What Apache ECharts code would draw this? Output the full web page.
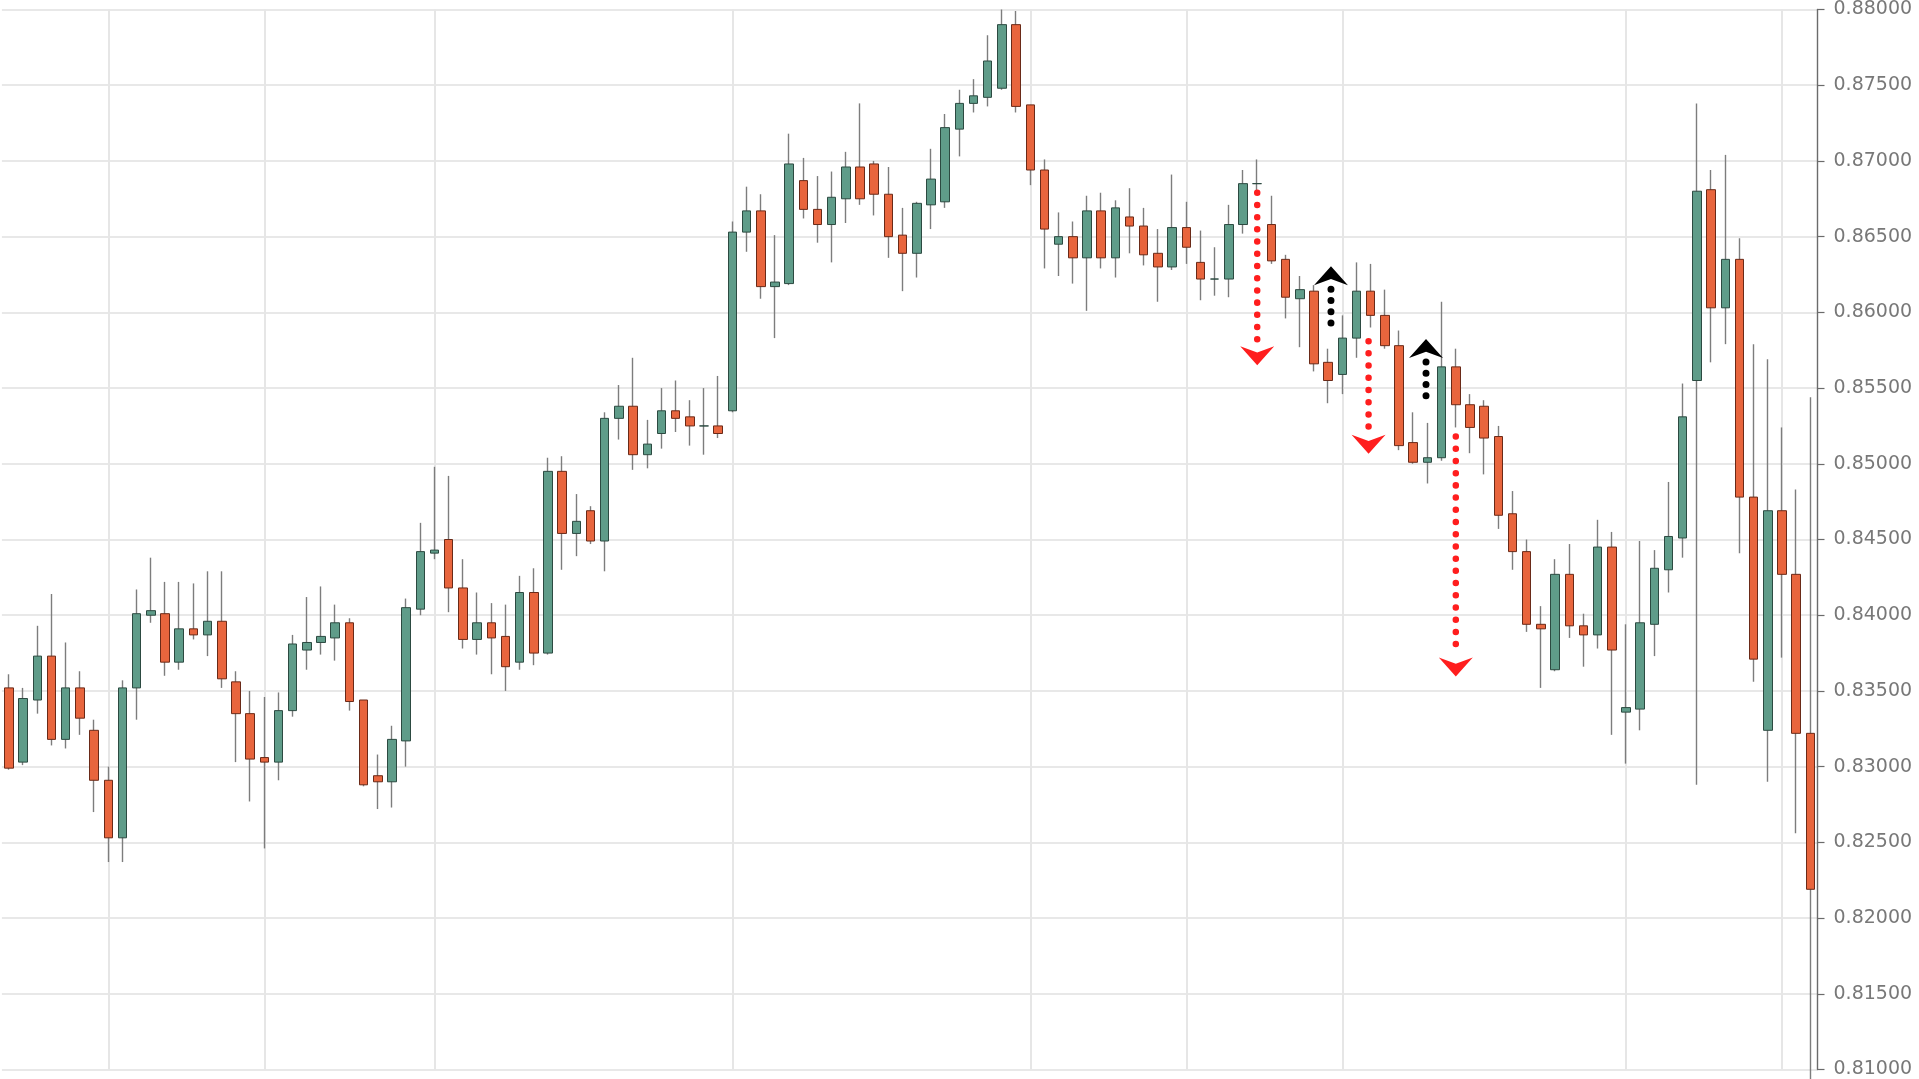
<!DOCTYPE html>
<html>
<head>
<meta charset="utf-8">
<script src="https://cdn.jsdelivr.net/npm/echarts@6/dist/echarts.min.js"></script>
<style>
html,body{margin:0;padding:0;background:#fff;}
#chart{width:1919px;height:1079px;}
</style>
</head>
<body>
<div id="chart"></div>
<script>
// OHLC values (one entry per candle)
const open = [
0.8352,0.8303,0.8344,0.8373,0.8318,0.8352,0.8324,0.8291,0.8253,0.8352,
0.8400,0.8401,0.8369,0.8391,0.8387,0.8396,0.8356,0.8335,0.8306,0.8303,
0.8337,0.8377,0.8382,0.8385,0.8395,0.8344,0.8294,0.8290,0.8317,0.8404,
0.8441,0.8450,0.8418,0.8384,0.8395,0.8386,0.8369,0.8415,0.8375,0.8495,
0.8454,0.8469,0.8449,0.8530,0.8538,0.8506,0.8520,0.8535,0.8531,0.8525,
0.8525,0.8535,0.8653,0.8667,0.8617,0.8619,0.8687,0.8668,0.8658,0.8675,
0.8696,0.8698,0.8678,0.8651,0.8639,0.8671,0.8673,0.8721,0.8738,0.8742,
0.8748,0.8790,0.8737,0.8694,0.8645,0.8650,0.8636,0.8667,0.8636,0.8663,
0.8657,0.8639,0.8630,0.8656,0.8633,0.8622,0.8622,0.8658,0.8685,0.8658,
0.8635,0.8609,0.8614,0.8567,0.8559,0.8583,0.8614,0.8598,0.8578,0.8514,
0.8501,0.8504,0.8564,0.8539,0.8538,0.8518,0.8467,0.8442,0.8394,0.8364,
0.8427,0.8393,0.8387,0.8445,0.8336,0.8338,0.8394,0.8430,0.8451,0.8555,
0.8681,0.8603,0.8635,0.8478,0.8324,0.8469,0.8427,0.8322
];
const close = [
0.8299,0.8345,0.8373,0.8318,0.8352,0.8332,0.8291,0.8253,0.8352,0.8401,
0.8403,0.8369,0.8391,0.8387,0.8396,0.8358,0.8335,0.8305,0.8303,0.8337,
0.8381,0.8382,0.8386,0.8395,0.8343,0.8288,0.8290,0.8318,0.8405,0.8442,
0.8443,0.8418,0.8384,0.8395,0.8385,0.8366,0.8415,0.8375,0.8495,0.8454,
0.8462,0.8449,0.8530,0.8538,0.8506,0.8513,0.8535,0.8530,0.8525,0.8525,
0.8520,0.8653,0.8667,0.8617,0.8620,0.8698,0.8668,0.8658,0.8676,0.8696,
0.8675,0.8678,0.8650,0.8639,0.8672,0.8688,0.8722,0.8738,0.8743,0.8766,
0.8790,0.8736,0.8694,0.8655,0.8650,0.8636,0.8667,0.8636,0.8669,0.8657,
0.8638,0.8630,0.8656,0.8643,0.8622,0.8622,0.8658,0.8685,0.8685,0.8634,
0.8610,0.8615,0.8566,0.8555,0.8583,0.8614,0.8598,0.8578,0.8512,0.8501,
0.8504,0.8564,0.8539,0.8524,0.8517,0.8466,0.8442,0.8394,0.8391,0.8427,
0.8393,0.8387,0.8445,0.8377,0.8339,0.8395,0.8431,0.8452,0.8531,0.8680,
0.8603,0.8635,0.8478,0.8371,0.8469,0.8427,0.8322,0.8219
];
const low = [
0.8298,0.8301,0.8335,0.8314,0.8312,0.8321,0.8270,0.8237,0.8237,0.8331,
0.8395,0.8360,0.8364,0.8384,0.8373,0.8352,0.8303,0.8277,0.8246,0.8291,
0.8333,0.8364,0.8374,0.8370,0.8337,0.8287,0.8272,0.8273,0.8300,0.8400,
0.8437,0.8402,0.8378,0.8374,0.8361,0.8350,0.8364,0.8367,0.8374,0.8430,
0.8439,0.8447,0.8429,0.8516,0.8496,0.8497,0.8510,0.8521,0.8512,0.8506,
0.8517,0.8534,0.8640,0.8609,0.8583,0.8618,0.8662,0.8646,0.8633,0.8659,
0.8671,0.8664,0.8636,0.8614,0.8623,0.8655,0.8669,0.8703,0.8732,0.8736,
0.8747,0.8732,0.8684,0.8629,0.8624,0.8619,0.8601,0.8629,0.8623,0.8639,
0.8631,0.8607,0.8628,0.8632,0.8608,0.8611,0.8610,0.8652,0.8678,0.8632,
0.8596,0.8577,0.8561,0.8540,0.8546,0.8570,0.8590,0.8576,0.8509,0.8500,
0.8487,0.8502,0.8524,0.8507,0.8493,0.8457,0.8430,0.8389,0.8352,0.8363,
0.8385,0.8366,0.8378,0.8321,0.8302,0.8324,0.8373,0.8415,0.8438,0.8288,
0.8567,0.8579,0.8441,0.8356,0.8290,0.8372,0.8256,0.8050
];
const high = [
0.8361,0.8352,0.8393,0.8414,0.8382,0.8363,0.8331,0.8300,0.8357,0.8417,
0.8438,0.8422,0.8422,0.8421,0.8429,0.8429,0.8363,0.8350,0.8346,0.8349,
0.8387,0.8412,0.8419,0.8407,0.8398,0.8344,0.8308,0.8327,0.8411,0.8461,
0.8498,0.8492,0.8437,0.8415,0.8408,0.8407,0.8426,0.8431,0.8504,0.8505,
0.8480,0.8472,0.8534,0.8552,0.8570,0.8529,0.8550,0.8555,0.8542,0.8550,
0.8558,0.8660,0.8683,0.8678,0.8651,0.8718,0.8702,0.8690,0.8693,0.8706,
0.8738,0.8700,0.8696,0.8669,0.8673,0.8708,0.8731,0.8747,0.8754,0.8783,
0.8800,0.8799,0.8737,0.8701,0.8666,0.8660,0.8677,0.8679,0.8674,0.8682,
0.8669,0.8655,0.8691,0.8673,0.8654,0.8643,0.8671,0.8694,0.8701,0.8677,
0.8638,0.8624,0.8618,0.8576,0.8598,0.8633,0.8632,0.8615,0.8588,0.8534,
0.8527,0.8607,0.8576,0.8546,0.8542,0.8525,0.8482,0.8450,0.8406,0.8437,
0.8447,0.8401,0.8463,0.8455,0.8394,0.8449,0.8443,0.8488,0.8553,0.8738,
0.8694,0.8704,0.8649,0.8579,0.8569,0.8524,0.8483,0.8544
];
const categories = open.map((_, i) => 'D' + (i + 1));

// vertical separator lines (candle indices)
const separatorIdx = [7, 18, 30, 51, 72, 83, 94, 114, 125];

// y axis
const yMin = 0.81, yMax = 0.88, yStep = 0.005;

// dotted arrow annotations: x (candle index), first dot, last dot, arrow tip
const arrowX     = [88.0,   93.2,    95.85,  99.9,    102.0];
const arrowStart = [0.8679, 0.8593,  0.8581, 0.8545,  0.8518];
const arrowEnd   = [0.8580, 0.8616,  0.8520, 0.8568,  0.8374];
const arrowTip   = [0.8565, 0.86305, 0.85066,0.85824, 0.83595];
const arrowColor = ['#ff1e1e', '#000000', '#ff1e1e', '#000000', '#ff1e1e'];

const ohlc = open.map((o, i) => [o, close[i], low[i], high[i]]);
const bodies = open.map((o, i) => [o, close[i], Math.min(o, close[i]), Math.max(o, close[i])]);

const series = [
  {
    type: 'candlestick',
    name: 'wicks',
    data: ohlc,
    xAxisIndex: 0, yAxisIndex: 0,
    barWidth: 1,
    clip: true,
    z: 2,
    itemStyle: { color: '#7d7d7d', color0: '#7d7d7d', borderColor: '#7d7d7d', borderColor0: '#7d7d7d', borderWidth: 1.4 },
    markLine: {
      silent: true, symbol: 'none', z: 1, animation: false,
      label: { show: false },
      lineStyle: { color: '#e6e6e6', width: 2, type: 'solid' },
      data: separatorIdx.map(i => ({ xAxis: i }))
    }
  },
  {
    type: 'candlestick',
    name: 'bodies',
    data: bodies,
    xAxisIndex: 0, yAxisIndex: 0,
    barWidth: 9,
    clip: true,
    z: 3,
    itemStyle: { color: '#5f9c89', color0: '#e8653d', borderColor: '#2c4a41', borderColor0: '#6a2a18', borderWidth: 1 }
  }
];

arrowX.forEach((x, k) => {
  const down = arrowTip[k] < arrowStart[k];
  const isBlack = arrowColor[k] === '#000000';
  series.push({
    type: 'line',
    xAxisIndex: 1, yAxisIndex: 0,
    data: [[x, arrowStart[k]], [x, arrowEnd[k]]],
    showSymbol: false, symbol: 'none', silent: true, z: 10,
    lineStyle: { color: arrowColor[k], width: isBlack ? 7 : 6.5, type: [0.01, isBlack ? 11.2 : 12.2], cap: 'round' }
  });
  series.push({
    type: 'scatter',
    xAxisIndex: 1, yAxisIndex: 0,
    data: [[x, arrowTip[k]]],
    silent: true, z: 11,
    symbol: down ? 'path://M0 0 L50 17 L100 0 L50 52 Z' : 'path://M0 52 L50 35 L100 52 L50 0 Z',
    symbolSize: [34, 19],
    symbolOffset: [0, down ? '-50%' : '50%'],
    itemStyle: { color: arrowColor[k], opacity: 1 }
  });
});

const chart = echarts.init(document.getElementById('chart'), null, { renderer: 'canvas' });
chart.setOption({
  animation: false,
  backgroundColor: '#ffffff',
  grid: { left: 1.9, right: 101.5, top: 9.5, bottom: 2, containLabel: false },
  xAxis: [
    {
      type: 'category', data: categories, boundaryGap: true,
      axisLine: { show: false }, axisTick: { show: false }, axisLabel: { show: false }, splitLine: { show: false }
    },
    {
      type: 'value', min: -0.5, max: categories.length - 0.5, show: false,
      axisLine: { onZero: false }
    }
  ],
  yAxis: {
    type: 'value', position: 'right', min: yMin, max: yMax, interval: yStep,
    axisLine: { show: true, onZero: false, lineStyle: { color: '#6b6b6b', width: 1.4 } },
    axisTick: { show: true, length: 7, lineStyle: { color: '#6b6b6b', width: 1.2 } },
    axisLabel: { margin: 16, color: '#787878', fontSize: 19, fontFamily: 'DejaVu Sans', formatter: v => v.toFixed(5) },
    splitLine: { show: true, lineStyle: { color: '#e8e8e8', width: 2 } }
  },
  series: series
});
</script>
</body>
</html>
